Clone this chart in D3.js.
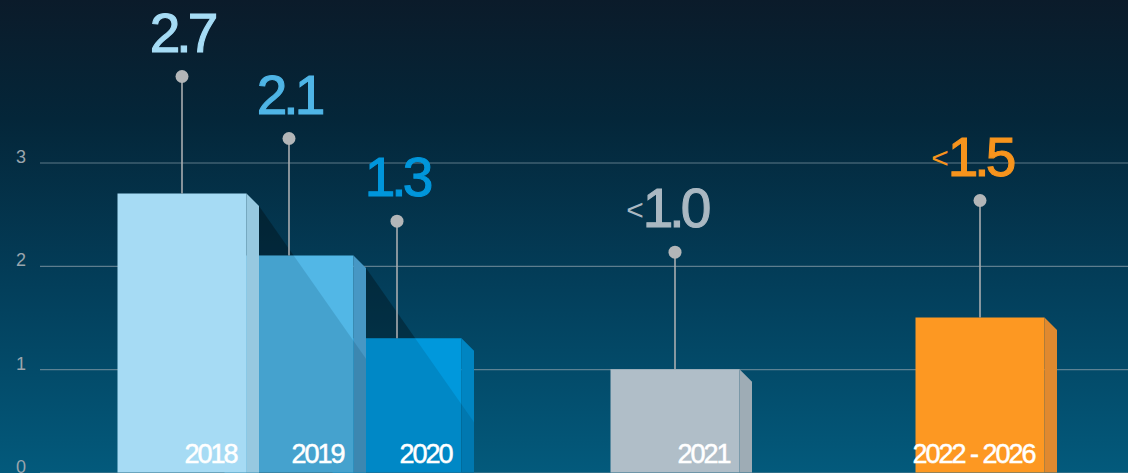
<!DOCTYPE html>
<html>
<head>
<meta charset="utf-8">
<script src="https://cdn.jsdelivr.net/npm/d3@7"></script>
<style>
  html, body { margin: 0; padding: 0; background: #03283c; }
  svg { display: block; }
  text { font-family: "Liberation Sans", Arial, Helvetica, sans-serif; }
</style>
</head>
<body>
<div id="chart"></div>
<script>
// Data
const categories = ["2018", "2019", "2020", "2021", "2022 - 2026"];
const values = [2.7, 2.1, 1.3, 1.0, 1.5];
const valuePrefixes = ["", "", "", "<", "<"];
const yTicks = [0, 1, 2, 3];

// Styling
const frontColors = ["#a6dbf4", "#52b7e6", "#0098dc", "#b0bec8", "#fd9822"];
const sideColors  = ["#97c9e0", "#4797c4", "#0085c2", "#9eacb5", "#e0892f"];
const labelColors = ["#a6dcf5", "#4fb5e6", "#0096db", "#aab8c2", "#f7941d"];

const W = 1128, H = 473;
const barWidth = 129, depth = 12.5;
const stemLen = 117, labelGap = 25;

const svg = d3.select("#chart").append("svg")
  .attr("width", W).attr("height", H);

const defs = svg.append("defs");
const bg = defs.append("linearGradient").attr("id", "bg")
  .attr("x1", 0).attr("y1", 0).attr("x2", 0).attr("y2", 1);
bg.append("stop").attr("offset", "0%").attr("stop-color", "#0b1b2a");
bg.append("stop").attr("offset", "25%").attr("stop-color", "#042639");
bg.append("stop").attr("offset", "60%").attr("stop-color", "#033e5a");
bg.append("stop").attr("offset", "100%").attr("stop-color", "#035a7c");

svg.append("rect").attr("width", W).attr("height", H).attr("fill", "url(#bg)");

// Scales
const x = d3.scaleOrdinal().domain(categories).range([182, 289, 397, 675, 980]);
const y = d3.scaleLinear().domain([0, 3]).range([472.5, 162.5]);

// Gridlines and tick labels
const axis = svg.append("g")
  .attr("transform", "translate(40,0)")
  .call(d3.axisLeft(y).tickValues(yTicks).tickSize(-(W - 40)).tickFormat(d3.format("d")));
axis.select(".domain").remove();
axis.selectAll(".tick line")
  .attr("stroke", "#7c94a2").attr("stroke-opacity", 0.75).attr("stroke-width", 1.2);
axis.selectAll(".tick text")
  .attr("x", -19).attr("dy", 0).attr("text-anchor", "middle")
  .attr("fill", "#9aa5ad").attr("font-size", 18);

// Bar geometry
const bars = categories.map((c, i) => {
  const cx = x(c);
  const x0 = cx - barWidth / 2, x1 = cx + barWidth / 2;
  const top = y(values[i]), bottom = y(0);
  return { c, i, cx, x0, x1, top, bottom, v: values[i] };
});
const frontPath = b => `M${b.x0},${b.top}H${b.x1}V${b.bottom}H${b.x0}Z`;
const sidePath = b => `M${b.x1},${b.top}L${b.x1 + depth},${b.top + depth}V${b.bottom}H${b.x1}Z`;
const outlinePath = b => `M${b.x0},${b.top}H${b.x1}L${b.x1 + depth},${b.top + depth}V${b.bottom}H${b.x0}Z`;
const shadowPath = b => {
  const sx = b.x1 + depth, sy = b.top + depth;
  return `M${sx},${sy}L${sx + (b.bottom - sy) * 0.7},${b.bottom}H${sx}Z`;
};

// A bar casts a visible shadow when the next bar sits right behind it
const casters = bars.filter((b, i) => i < bars.length - 1 && bars[i + 1].x0 < b.x1 + depth);

// Shadows on the background, kept within the neighbouring bar's span
casters.forEach(b => {
  const next = bars[b.i + 1];
  defs.append("clipPath").attr("id", "bgclip-" + b.i)
    .append("rect")
    .attr("x", b.x1 + depth).attr("y", 0)
    .attr("width", next.x1 + depth - (b.x1 + depth)).attr("height", H);
  svg.append("path").attr("d", shadowPath(b))
    .attr("clip-path", `url(#bgclip-${b.i})`)
    .attr("fill", "#000").attr("fill-opacity", 0.3);
});

// Bars, back to front
const barG = svg.append("g");
bars.slice().reverse().forEach(b => {
  const g = barG.append("g");
  g.append("path").attr("d", frontPath(b)).attr("fill", frontColors[b.i]);
  g.append("path").attr("d", sidePath(b)).attr("fill", sideColors[b.i]);
});

// Shadows falling on the neighbouring bar
casters.forEach(b => {
  const next = bars[b.i + 1];
  defs.append("clipPath").attr("id", "clip-" + b.i)
    .append("path").attr("d", outlinePath(next));
  svg.append("path").attr("d", shadowPath(b))
    .attr("clip-path", `url(#clip-${b.i})`)
    .attr("fill", "#00304a").attr("fill-opacity", 0.15);
});

// Stems and dots
const stems = svg.append("g");
bars.forEach(b => {
  stems.append("line")
    .attr("x1", b.cx).attr("x2", b.cx)
    .attr("y1", b.top - stemLen).attr("y2", b.top)
    .attr("stroke", "#a9adb0").attr("stroke-width", 1.6);
  stems.append("circle")
    .attr("cx", b.cx).attr("cy", b.top - stemLen).attr("r", 6.5)
    .attr("fill", "#b3b6b8");
});

// Value labels
const labels = svg.append("g");
bars.forEach(b => {
  const baseY = b.top - stemLen - labelGap;
  const t = labels.append("text")
    .attr("x", b.cx).attr("y", baseY)
    .attr("text-anchor", "middle")
    .attr("font-size", 55)
    .attr("letter-spacing", "-4px")
    .attr("fill", labelColors[b.i])
    .attr("stroke", labelColors[b.i])
    .attr("stroke-width", 1.1)
    .text(d3.format(".1f")(b.v));
  if (valuePrefixes[b.i]) {
    const bb = t.node().getBBox();
    labels.append("text")
      .attr("x", bb.x + 1).attr("y", baseY - 7.5)
      .attr("text-anchor", "end")
      .attr("font-size", 30)
      .attr("fill", labelColors[b.i])
      .text(valuePrefixes[b.i]);
  }
});

// Category labels inside the bars
svg.append("g").selectAll("text").data(bars).join("text")
  .attr("x", b => b.x1 - 10)
  .attr("y", 463)
  .attr("text-anchor", "end")
  .attr("font-size", 27)
  .attr("letter-spacing", "-2px")
  .attr("fill", "#ffffff")
  .attr("stroke", "#ffffff")
  .attr("stroke-width", 0.5)
  .text(b => b.c);
</script>
</body>
</html>
